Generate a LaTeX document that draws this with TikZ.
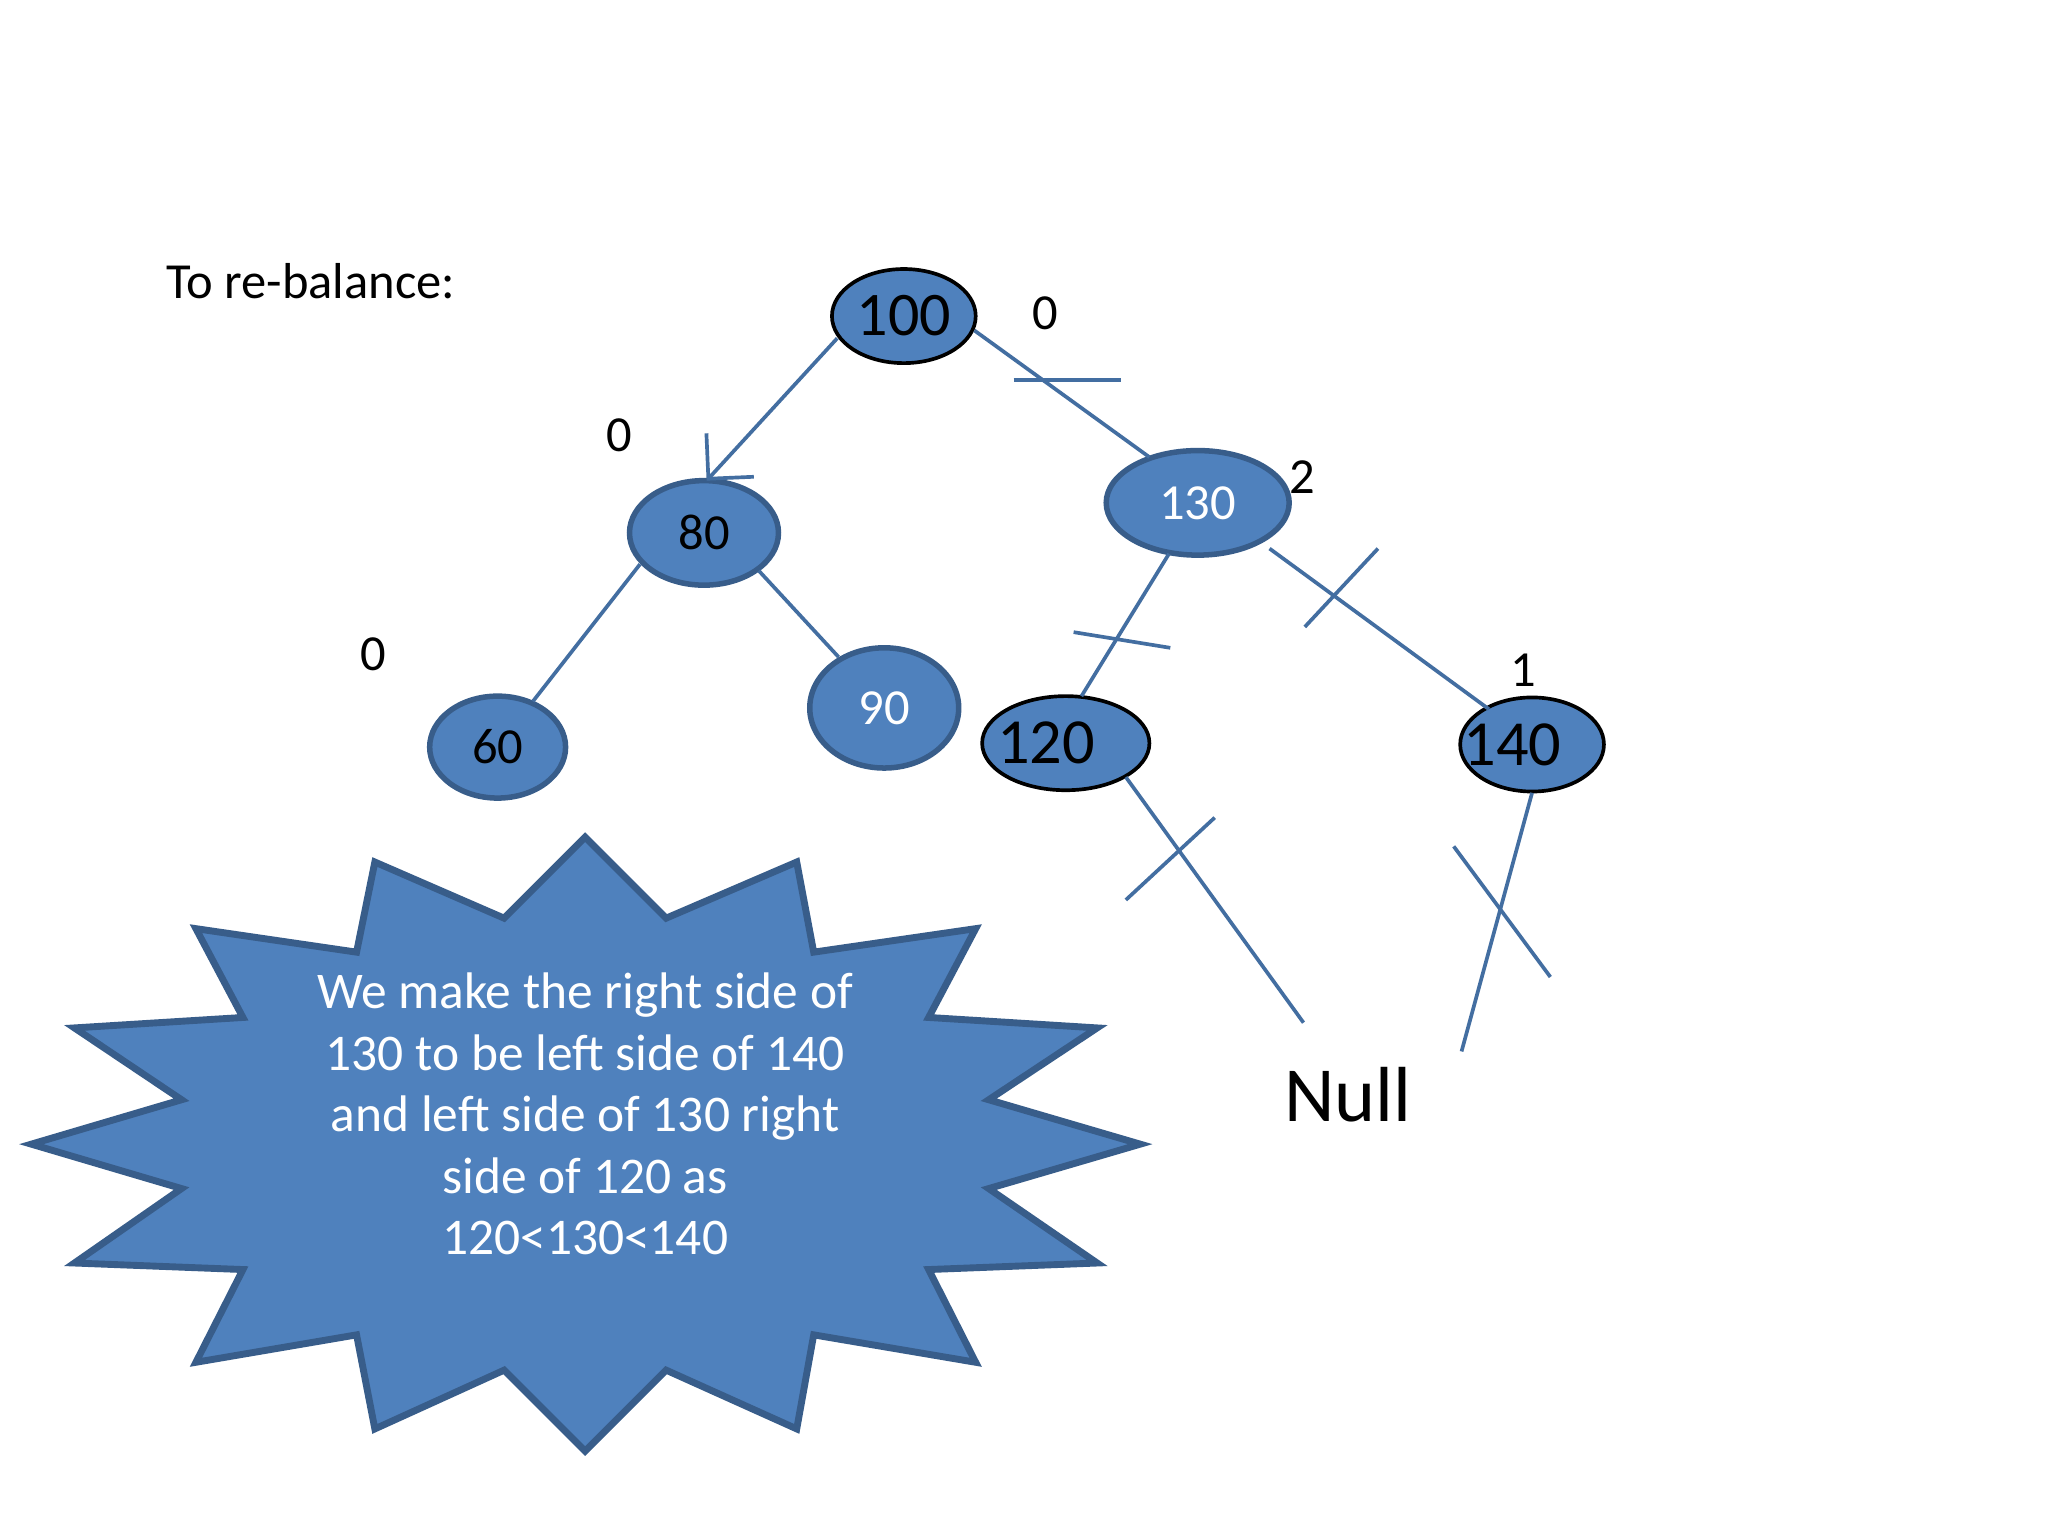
\documentclass[tikz,border=0pt]{standalone}
\usepackage{fontspec}
\setmainfont{Carlito}
\usetikzlibrary{shapes.geometric,arrows.meta}
\definecolor{nodefill}{HTML}{4F81BD}
\definecolor{nodeline}{HTML}{385D8A}
\tikzset{
 bst/.style={ellipse,fill=nodefill,draw=nodeline,line width=1.2pt,inner sep=0pt},
 bstk/.style={ellipse,fill=nodefill,draw=black,line width=0.8pt,inner sep=0pt},
 edge/.style={draw=nodefill!85!black,line width=0.8pt},
 lbl/.style={font=\fontsize{11}{13}\selectfont}
}
\begin{document}
\begin{tikzpicture}[x=0.01cm,y=-0.01cm]
\useasboundingbox (0,0) rectangle (1568,1176);
\fill[white] (0,0) rectangle (1568,1176);
\node[bstk,minimum width=1.10cm,minimum height=0.72cm,font=\fontsize{13.5}{14}\selectfont] (n100) at (692,242) {100};
\node[bst,minimum width=1.14cm,minimum height=0.80cm,font=\fontsize{11}{12}\selectfont] (n80) at (539,408) {80};
\node[bst,minimum width=1.40cm,minimum height=0.80cm,text=white,font=\fontsize{11}{12}\selectfont] (n130) at (917,385) {130};
\node[bst,minimum width=1.04cm,minimum height=0.78cm,font=\fontsize{11}{12}\selectfont] (n60) at (381,572) {60};
\node[bst,minimum width=1.14cm,minimum height=0.92cm,text=white,font=\fontsize{11}{12}\selectfont] (n90) at (677,542) {90};
\node[bstk,minimum width=1.28cm,minimum height=0.72cm,font=\fontsize{14}{14}\selectfont] (n120) at (816,569) {\hspace*{-0.3cm}120};
\node[bstk,minimum width=1.10cm,minimum height=0.72cm,font=\fontsize{14}{14}\selectfont] (n140) at (1173,570) {\hspace*{-0.3cm}140};
\coordinate (a1) at (862,595); \coordinate (a2) at (998,783);
\coordinate (b1) at (1173,607); \coordinate (b2) at (1119,805);
\coordinate (s1) at (641,259); \coordinate (s2) at (541,368);
\draw[edge,-{Straight Barb[length=7pt]}] (s1) -- (s2);
\draw[edge] (746,253) -- (880,350);
\draw[edge] (490,432) -- (408,537);
\draw[edge] (581,437) -- (642,503);
\draw[edge] (895,424) -- (828,533);
\draw[edge] (972,420) -- (1140,543);
\draw[edge] (a1) -- (a2);
\draw[edge] (b1) -- (b2);
\draw[edge] (776,291) -- (858,291);
\draw[edge] (822,484) -- (896,496);
\draw[edge] (999,480) -- (1055,420);
\draw[edge] (862,689) -- (930,626);
\draw[edge] (1113,648) -- (1187,748);
\node[lbl] (z1) at (800,240) {0};
\node[lbl] (z2) at (474,333) {0};
\node[lbl] (z3) at (286,501) {0};
\node[lbl] (z4) at (997,365) {2};
\node[lbl] (z5) at (1166,513) {1};
\node[lbl,anchor=west] (title) at (115,215) {To re-balance:};
\node[font=\fontsize{17}{20}\selectfont] (null) at (1032,838) {Null};
\draw[fill=nodefill,draw=nodeline,line width=1.5pt] (448,641)--(510,703)--(610,660)--(623,729)--(747,711)--(711,779)--(840,787)--(757,842)--(873,876)--(757,910)--(840,967)--(711,972)--(747,1043)--(623,1022)--(610,1094)--(510,1049)--(448,1111)--(386,1049)--(287,1094)--(273,1022)--(150,1043)--(186,972)--(57,967)--(139,910)--(24,876)--(139,842)--(57,787)--(186,779)--(150,711)--(273,729)--(287,660)--(386,703)--cycle;
\node[text=white,align=center,font=\fontsize{11.2}{13.4}\selectfont] (star) at (448,853) {We make the right side of\\130 to be left side of 140\\and left side of 130 right\\side of 120 as\\120<130<140};
\end{tikzpicture}
\end{document}
